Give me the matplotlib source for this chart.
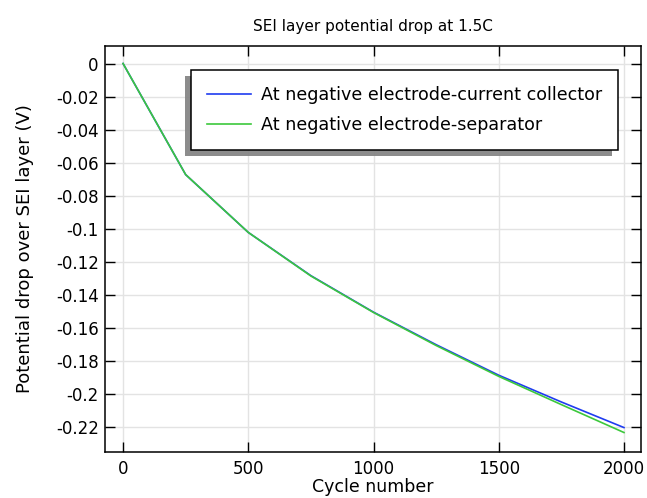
import numpy as np
import matplotlib
matplotlib.use('Agg')
import matplotlib.pyplot as plt
import matplotlib.patheffects as pe

# cycle number vs potential drop (V)
cycles = [0, 250, 500, 750, 1000, 1250, 1500, 1750, 2000]
drop_cc = [0.0, -0.0673, -0.1023, -0.1285, -0.1506, -0.1703, -0.1888, -0.2050, -0.2205]
drop_sep = [0.0, -0.0673, -0.1023, -0.1287, -0.1508, -0.1708, -0.1895, -0.2066, -0.2235]
labels = ['At negative electrode-current collector', 'At negative electrode-separator']

xticks = [0, 500, 1000, 1500, 2000]
yticks = [0, -0.02, -0.04, -0.06, -0.08, -0.1, -0.12, -0.14, -0.16, -0.18, -0.2, -0.22]
ytick_labels = ['0', '-0.02', '-0.04', '-0.06', '-0.08', '-0.1', '-0.12', '-0.14',
                '-0.16', '-0.18', '-0.2', '-0.22']

dpi = 100.0
fig = plt.figure(figsize=(647/dpi, 498/dpi), dpi=dpi)
ax = fig.add_axes([105/647., 1-452/498., 536/647., 406/498.])

ax.plot(cycles, drop_cc, color='#1f3cf0', lw=1.2, label=labels[0], zorder=3)
ax.plot(cycles, drop_sep, color='#3cc83c', lw=1.2, label=labels[1], zorder=3)

ax.set_xlim(-72, 2068)
ax.set_ylim(-0.2353, 0.0106)
ax.set_xticks(xticks)
ax.set_yticks(yticks)
ax.set_yticklabels(ytick_labels)
ax.grid(True, color='#e3e3e3', lw=1.0)
ax.set_axisbelow(True)
ax.tick_params(direction='in', length=7, width=1.0, top=True, right=True,
               labelsize=12)
ax.tick_params(axis='x', pad=6)
ax.tick_params(axis='y', pad=4.5)
for s in ax.spines.values():
    s.set_linewidth(1.1)

ax.set_title('SEI layer potential drop at 1.5C', fontsize=11, pad=11)
ax.set_xlabel('Cycle number', fontsize=12.5, labelpad=0)
ax.set_ylabel('Potential drop over SEI layer (V)', fontsize=13, labelpad=16)

leg = ax.legend(loc='upper right', bbox_to_anchor=((618-105)/536., 1-(70-46)/406.),
                fontsize=12.6, frameon=True, fancybox=False, framealpha=1,
                edgecolor='black', borderpad=0.9, handlelength=2.5,
                handletextpad=0.6, labelspacing=0.72, borderaxespad=0)
leg.get_frame().set_linewidth(1.1)
leg.get_frame().set_path_effects([pe.SimplePatchShadow(offset=(-4, -4), shadow_rgbFace='#808080', alpha=0.9), pe.Normal()])

fig.savefig('out.png', dpi=dpi)
